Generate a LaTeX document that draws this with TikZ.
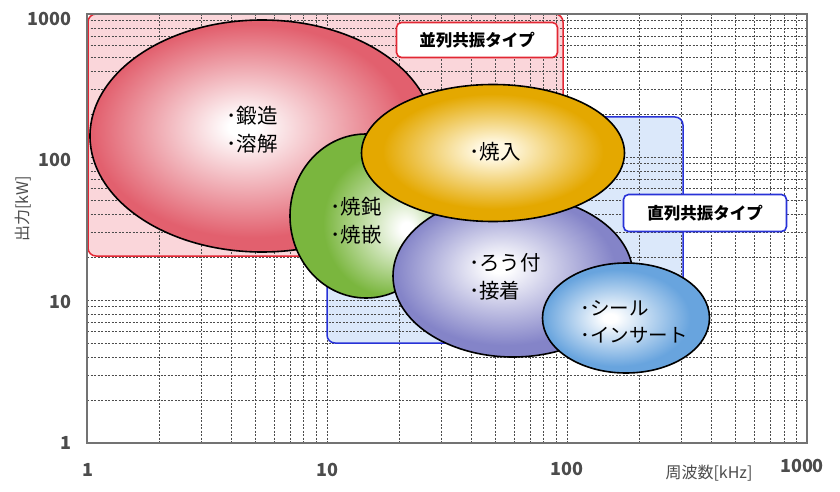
\documentclass[tikz,border=0pt]{standalone}
\usepackage{fontspec}
\setmainfont{Noto Sans CJK JP}
\usetikzlibrary{shapes.geometric, positioning}

% colours
\definecolor{heiretsupink}{RGB}{250,214,218}
\definecolor{heiretsured}{RGB}{226,40,52}
\definecolor{chokuretsufill}{RGB}{219,232,250}
\definecolor{chokuretsuline}{RGB}{40,50,215}
\definecolor{tanzored}{RGB}{226,96,110}
\definecolor{shodongreen}{RGB}{122,182,62}
\definecolor{yakiireyellow}{RGB}{228,168,0}
\definecolor{yakiirecream}{RGB}{255,248,225}
\definecolor{rouzukepurple}{RGB}{132,132,200}
\definecolor{sealblue}{RGB}{104,164,222}

% glowing fills of the regions
\pgfdeclareradialshading{tanzoglow}{\pgfpoint{-3bp}{2bp}}{color(0bp)=(white); color(2bp)=(white); color(23bp)=(tanzored); color(50bp)=(tanzored)}
\pgfdeclareradialshading{shodonglow}{\pgfpoint{14bp}{-4bp}}{color(0bp)=(white); color(2bp)=(white); color(22bp)=(shodongreen); color(50bp)=(shodongreen)}
\pgfdeclareradialshading{yakiireglow}{\pgfpoint{0bp}{1bp}}{color(0bp)=(yakiirecream); color(3bp)=(yakiirecream); color(21bp)=(yakiireyellow); color(50bp)=(yakiireyellow)}
\pgfdeclareradialshading{rouzukeglow}{\pgfpoint{-3bp}{3bp}}{color(0bp)=(white); color(2bp)=(white); color(23bp)=(rouzukepurple); color(50bp)=(rouzukepurple)}
\pgfdeclareradialshading{sealglow}{\pgfpoint{-5bp}{0bp}}{color(0bp)=(white); color(2bp)=(white); color(22bp)=(sealblue); color(50bp)=(sealblue)}

\begin{document}
\begin{tikzpicture}[x=1pt, y=-1pt,
    gridline/.style={black!70, line width=0.5pt, dash pattern=on 2pt off 1.5pt},
    blob/.style={ellipse, draw=black, line width=1.6pt, shade, inner sep=0pt},
    blobtext/.style={align=left, inner sep=0pt, font=\fontsize{20.5}{28}\selectfont},
    typebox/.style={rounded corners=5pt, fill=white, line width=1.6pt, minimum width=161pt, minimum height=35pt, font=\fontsize{16.5}{18}\selectfont\bfseries},
    ticklabel/.style={text=black!70, inner sep=0pt, font=\fontsize{18}{20}\selectfont\bfseries},
    axislabel/.style={text=black!70, inner sep=0pt, font=\fontsize{16}{18}\selectfont}]
    \useasboundingbox (0,0) rectangle (840,492);

    % resonance type regions
    \fill[heiretsupink, rounded corners=8pt] (88,14) rectangle (563,256);
    \fill[chokuretsufill, rounded corners=8pt] (327,117) rectangle (683,343);

    % log grid
    \foreach \d in {0,1,2} {
        \foreach \m in {1,...,9} {
            \draw[gridline] ({87+240*(\d+log10(\m))},14) -- ++(0,429);
            \draw[gridline] (87,{443-143*(\d+log10(\m))}) -- ++(720,0);
        }
    }
    \draw[heiretsured, line width=1.5pt, rounded corners=8pt] (88,14) rectangle (563,256);
    \draw[chokuretsuline, line width=1.5pt, rounded corners=8pt] (327,117) rectangle (683,343);
    \draw[black!55, line width=1.2pt] (87,14) rectangle (807,443);

    % tick labels
    \node[ticklabel, anchor=east] (y1000) at (72,19) {1000};
    \node[ticklabel, anchor=east] (y100) at (72,160) {100};
    \node[ticklabel, anchor=east] (y10) at (72,302) {10};
    \node[ticklabel, anchor=east] (y1) at (72,443) {1};
    \node[ticklabel] (x1) at (88,470) {1};
    \node[ticklabel] (x10) at (327,470) {10};
    \node[ticklabel] (x100) at (567,469) {100};
    \node[ticklabel] (x1000) at (802,466) {1000};
    \node[axislabel] (xlabel) at (709,473) {周波数[kHz]};
    \node[axislabel, rotate=90] (ylabel) at (23,209) {出力[kW]};

    % application areas
    \node[blob, shading=tanzoglow, minimum width=344pt, minimum height=232pt] (tanzo) at (262,136) {};
    \node[blob, shading=shodonglow, minimum width=152pt, minimum height=164pt] (shodon) at (366,216) {};
    \node[blob, shading=rouzukeglow, minimum width=240pt, minimum height=162pt] (rouzuke) at (513,276) {};
    \node[blob, shading=yakiireglow, minimum width=263pt, minimum height=137pt] (yakiire) at (493,153) {};
    \node[blob, shading=sealglow, minimum width=167pt, minimum height=110pt] (seal) at (626,318) {};

    \node[blobtext] (tanzotext) at (252,130) {･鍛造\\･溶解};
    \node[blobtext] (shodontext) at (356,221) {･焼鈍\\･焼嵌};
    \node[blobtext] (yakiiretext) at (495,152) {･焼入};
    \node[blobtext] (rouzuketext) at (505,277) {･ろう付\\･接着};
    \node[blobtext, font=\fontsize{19.5}{27}\selectfont] (sealtext) at (634,322) {･シール\\･インサート};

    % type labels
    \node[typebox, draw=heiretsured] (heiretsu) at (477,40) {並列共振タイプ};
    \node[typebox, draw=chokuretsuline, minimum width=163pt, minimum height=37pt] (chokuretsu) at (705,213) {直列共振タイプ};
\end{tikzpicture}
\end{document}
